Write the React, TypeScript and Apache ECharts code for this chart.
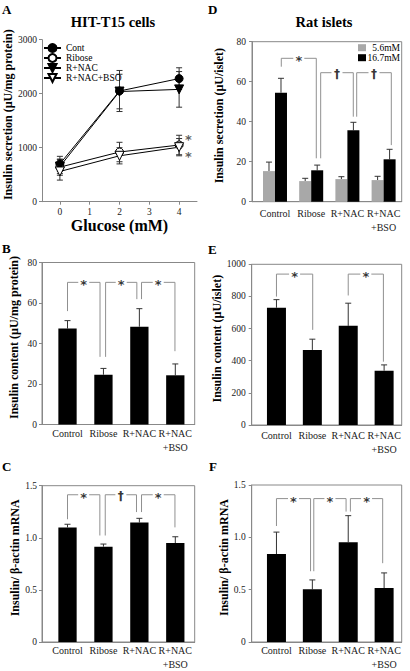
import React, { useEffect, useRef } from 'react';
import * as echarts from 'echarts';

const FONT = 'Liberation Serif';
const MARK_FONT = 'DejaVu Sans';
const AXIS_COLOR = '#888888';
const BRACKET_COLOR = '#909090';
const TEXT_COLOR = '#1a1a1a';
const GREY_BAR = '#a8a8a8';
const ERR_COLOR = '#333333';
const MARK_COLOR = '#000000';

// ---------- Panel A: HIT-T15 cells, insulin secretion vs glucose ----------
const glucoseLevels = [0, 2, 4];
const glucoseTicks = [0, 1, 2, 3, 4];
const aNames = ['Cont', 'Ribose', 'R+NAC', 'R+NAC+BSO'];
const aCont = [700, 2050, 2280];
const aContErr = [140, 380, 200];
const aRibose = [640, 920, 1050];
const aRiboseErr = [150, 180, 180];
const aNac = [650, 2040, 2080];
const aNacErr = [130, 320, 330];
const aBso = [560, 850, 1010];
const aBsoErr = [160, 150, 160];
const aStarPoints = [[4.31, 1200], [4.31, 880]];

// ---------- shared categories ----------
const groups = ['Control', 'Ribose', 'R+NAC', 'R+NAC\n+BSO'];
const groupIdx = [0, 1, 2, 3];

// ---------- Panel B: HIT-T15 insulin content ----------
const bContent = [47.4, 24.6, 48.3, 24.3];
const bContentErr = [3.9, 3.1, 8.9, 5.6];
const bBrackets = [[0, 56, 0.905, 33.4, 70.2], [1.06, 33.4, 1.93, 61.9, 70.2], [2.06, 61.9, 2.99, 36.2, 70.2]];
const bMarks = ['*', '*', '*'];

// ---------- Panel C: HIT-T15 insulin mRNA ----------
const cMrna = [1.10, 0.915, 1.147, 0.95];
const cMrnaErr = [0.03, 0.025, 0.04, 0.06];
const cBrackets = [[0, 1.178, 0.9, 1.022, 1.413], [1.05, 1.022, 1.92, 1.247, 1.413], [2.06, 1.247, 2.99, 1.10, 1.413]];
const cMarks = ['*', '†', '*'];

// ---------- Panel D: rat islets insulin secretion ----------
const dLegend = ['5.6mM', '16.7mM'];
const dLow = [15.3, 10.3, 11.3, 10.8];
const dLowErr = [4.5, 1.4, 1.2, 1.9];
const dHigh = [54.5, 15.7, 35.7, 21.2];
const dHighErr = [7.2, 2.6, 4.0, 5.0];
const dBrackets = [[0.174, 67.5, 1.141, 21.7, 71.7], [1.262, 21.7, 2.163, 42.5, 64.5], [2.257, 42.5, 3.213, 28.3, 64.5]];
const dMarks = ['*', '†', '†'];

// ---------- Panel E: rat islets insulin content ----------
const eContent = [730, 467, 617, 338];
const eContentErr = [50, 67, 141, 36];
const eBrackets = [[0, 799, 1.01, 592, 939], [2, 806, 2.98, 394, 939]];
const eMarks = ['*', '*'];

// ---------- Panel F: rat islets insulin mRNA ----------
const fMrna = [0.84, 0.503, 0.954, 0.515];
const fMrnaErr = [0.21, 0.09, 0.253, 0.145];
const fBrackets = [[0, 1.108, 0.95, 0.676, 1.37], [1.04, 0.676, 1.94, 1.246, 1.37], [2.06, 1.246, 2.96, 0.753, 1.37]];
const fMarks = ['*', '*', '*'];

const TRI_DOWN = 'path://M0,0L10,0L5,9Z';

function errorBarRender(offsetPx: number, twoSided: boolean) {
  return (params: any, api: any) => {
    const x = api.value(0);
    const y = api.value(1);
    const e = api.value(2);
    const top = api.coord([x, y + e]);
    const base = api.coord([x, twoSided ? y - e : y]);
    const cx = top[0] + offsetPx;
    const style = { stroke: ERR_COLOR, lineWidth: 1 };
    const children: any[] = [
      { type: 'line', shape: { x1: cx, y1: base[1], x2: cx, y2: top[1] }, style },
      { type: 'line', shape: { x1: cx - 3, y1: top[1], x2: cx + 3, y2: top[1] }, style },
    ];
    if (twoSided) {
      children.push({ type: 'line', shape: { x1: cx - 3, y1: base[1], x2: cx + 3, y2: base[1] }, style });
    }
    return { type: 'group', children };
  };
}

function bracketRender(params: any, api: any) {
  const xl = api.value(0);
  const yl = api.value(1);
  const xr = api.value(2);
  const yr = api.value(3);
  const yt = api.value(4);
  const pl = api.coord([xl, yl]);
  const plt = api.coord([xl, yt]);
  const pr = api.coord([xr, yr]);
  const prt = api.coord([xr, yt]);
  const mx = (plt[0] + prt[0]) / 2;
  const gap = 5.5;
  const lineStyle = { stroke: BRACKET_COLOR, lineWidth: 1, fill: 'none' };
  return {
    type: 'group',
    children: [
      { type: 'polyline', shape: { points: [pl, plt, [mx - gap, plt[1]]] }, style: lineStyle },
      { type: 'polyline', shape: { points: [[mx + gap, prt[1]], prt, pr] }, style: lineStyle },
    ],
  };
}

const tickLabel = { fontFamily: FONT, fontSize: 9.5, color: TEXT_COLOR };
const nameStyle = { fontFamily: FONT, fontSize: 12, fontWeight: 'bold', color: '#000', padding: [0, 0, 0, 12] };
const axisLine = { show: true, onZero: false, lineStyle: { color: AXIS_COLOR, width: 1 } };
const yTick = { show: true, inside: false, length: 3, lineStyle: { color: AXIS_COLOR } };

function yAxisDef(gi: number, max: number, interval: number, name: string, nameGap: number, margin: number, dec: boolean) {
  return {
    gridIndex: gi,
    type: 'value',
    min: 0,
    max,
    interval,
    axisLine,
    axisTick: yTick,
    splitLine: { show: false },
    axisLabel: {
      ...tickLabel,
      margin,
      formatter: (v: number) => (dec ? (v === 0 ? '0' : v.toFixed(1)) : String(v)),
    },
    name,
    nameLocation: 'middle',
    nameGap,
    nameTextStyle: nameStyle,
  };
}

function catAxisDef(gi: number, min: number, max: number, margin: number) {
  return {
    gridIndex: gi,
    type: 'value',
    min,
    max,
    axisLine,
    axisTick: { show: false },
    splitLine: { show: false },
    axisLabel: {
      fontFamily: FONT,
      fontSize: 10,
      lineHeight: 14,
      color: TEXT_COLOR,
      margin,
      customValues: groupIdx,
      formatter: (v: number) => (Number.isInteger(v) && v >= 0 && v < groups.length ? groups[v] : ''),
    },
  };
}

function barSeries(gi: number, name: string, vals: number[], color: string, width: number) {
  return {
    type: 'bar',
    name,
    xAxisIndex: gi,
    yAxisIndex: gi,
    data: vals.map((v, i) => [groupIdx[i], v]),
    barWidth: width,
    barGap: '0%',
    itemStyle: { color },
    silent: true,
  };
}

function errSeries(gi: number, vals: number[], errs: number[], offsetPx: number, twoSided: boolean, xs: number[]) {
  return {
    type: 'custom',
    xAxisIndex: gi,
    yAxisIndex: gi,
    silent: true,
    clip: false,
    data: vals.map((v, i) => [xs[i], v, errs[i]]),
    encode: { x: 0, y: 1 },
    renderItem: errorBarRender(offsetPx, twoSided),
  };
}

function markLabel(mark: string) {
  return mark === '*'
    ? { offset: [0, 2.5], fontFamily: MARK_FONT, fontWeight: 'bold', fontSize: 13 }
    : { offset: [0, 1.5], fontFamily: MARK_FONT, fontWeight: 'bold', fontSize: 12 };
}

function markSeries(gi: number, points: number[][], marks: string[], color: string) {
  return {
    type: 'scatter',
    xAxisIndex: gi,
    yAxisIndex: gi,
    silent: true,
    symbol: 'circle',
    symbolSize: 1,
    itemStyle: { color: 'rgba(0,0,0,0)' },
    z: 6,
    data: points.map((p, i) => ({ value: p, label: markLabel(marks[i]) })),
    label: {
      show: true,
      position: 'inside',
      formatter: (p: any) => marks[p.dataIndex],
      color,
    },
  };
}

function bracketSeries(gi: number, brackets: number[][], marks: string[]) {
  return [
    {
      type: 'custom',
      xAxisIndex: gi,
      yAxisIndex: gi,
      silent: true,
      clip: false,
      data: brackets,
      encode: { x: [0, 2], y: [1, 3, 4] },
      renderItem: bracketRender,
      z: 5,
    },
    markSeries(gi, brackets.map((b) => [(b[0] + b[2]) / 2, b[4]]), marks, MARK_COLOR),
  ];
}

const aValues = [aCont, aRibose, aNac, aBso];
const aErrors = [aContErr, aRiboseErr, aNacErr, aBsoErr];
const aSymbols = ['circle', 'circle', TRI_DOWN, TRI_DOWN];
const aFills = ['#000', '#fff', '#000', '#fff'];
const aSizes = [8, 8, 9, 9];

const lineSeries = aNames.map((n, k) => ({
  type: 'line',
  name: n,
  xAxisIndex: 0,
  yAxisIndex: 0,
  data: glucoseLevels.map((g, i) => [g, aValues[k][i]]),
  symbol: aSymbols[k],
  symbolSize: aSizes[k],
  showAllSymbol: true,
  lineStyle: { color: '#000', width: 1 },
  itemStyle: { color: aFills[k], borderColor: '#000', borderWidth: 1 },
  silent: true,
  z: 4,
}));

const aErrSeries = aNames.map((n, k) => errSeries(0, aValues[k], aErrors[k], 0, true, glucoseLevels));

const gridBox = { show: true, borderColor: AXIS_COLOR, borderWidth: 1, backgroundColor: 'transparent' };

const option: any = {
  animation: false,
  backgroundColor: '#fff',
  textStyle: { fontFamily: FONT },
  grid: [
    { left: 42, top: 39.7, width: 155, height: 162 },
    { left: 42, top: 262.5, width: 152.7, height: 162, ...gridBox },
    { left: 42, top: 485.7, width: 152.7, height: 160, ...gridBox },
    { left: 252, top: 41.7, width: 149.7, height: 160, ...gridBox },
    { left: 251.7, top: 264.3, width: 150, height: 160.7, ...gridBox },
    { left: 251.7, top: 485, width: 150, height: 161, ...gridBox },
  ],
  xAxis: [
    {
      gridIndex: 0,
      type: 'value',
      min: -0.6,
      max: 4.6,
      axisLine,
      axisTick: { show: true, inside: false, length: 3, customValues: glucoseTicks, lineStyle: { color: AXIS_COLOR } },
      splitLine: { show: false },
      axisLabel: {
        ...tickLabel,
        margin: 5,
        customValues: glucoseTicks,
        formatter: (v: number) => (Number.isInteger(v) ? String(v) : ''),
      },
      name: 'Glucose (mM)',
      nameLocation: 'middle',
      nameGap: 12,
      nameTextStyle: { fontFamily: FONT, fontSize: 16, fontWeight: 'bold', color: '#000' },
    },
    catAxisDef(1, -0.71, 3.54, 2),
    catAxisDef(2, -0.71, 3.54, 1),
    catAxisDef(3, -0.635, 3.5, 5),
    catAxisDef(4, -0.69, 3.49, 3),
    catAxisDef(5, -0.69, 3.49, 1),
  ],
  yAxis: [
    yAxisDef(0, 3000, 1000, 'Insulin secretion (µU/mg protein)', 22, 5, false),
    yAxisDef(1, 80, 20, 'Insulin content (µU/mg protein)', 22, 5, false),
    yAxisDef(2, 1.5, 0.5, 'Insulin/ β-actin mRNA', 20.5, 5, true),
    yAxisDef(3, 80, 20, 'Insulin secretion (µU/islet)', 27, 6, false),
    yAxisDef(4, 1000, 200, 'Insulin content (µU/islet)', 23.5, 6, false),
    yAxisDef(5, 1.5, 0.5, 'Insulin/ β-actin mRNA', 17.5, 6, true),
  ],
  legend: [
    {
      data: aNames,
      orient: 'vertical',
      left: 43,
      top: 43,
      padding: 0,
      itemWidth: 17,
      itemHeight: 10,
      itemGap: 0,
      selectedMode: false,
      textStyle: { fontFamily: FONT, fontSize: 9.5, color: '#000' },
    },
    {
      data: dLegend,
      orient: 'vertical',
      left: 358,
      top: 42.7,
      padding: 0,
      itemWidth: 8,
      itemHeight: 7,
      itemGap: 0,
      icon: 'rect',
      selectedMode: false,
      formatter: (name: string) => `{a|${name}}`,
      textStyle: {
        fontFamily: FONT,
        fontSize: 9.5,
        color: '#000',
        rich: { a: { width: 29, align: 'right', fontFamily: FONT, fontSize: 9.5, color: '#000' } },
      },
    },
  ],
  graphic: [
    { type: 'text', x: 2, y: 9, style: { text: 'A', font: `bold 13px ${FONT}`, fill: '#000', verticalAlign: 'middle' } },
    { type: 'text', x: 2, y: 248, style: { text: 'B', font: `bold 13px ${FONT}`, fill: '#000', verticalAlign: 'middle' } },
    { type: 'text', x: 2, y: 466, style: { text: 'C', font: `bold 13px ${FONT}`, fill: '#000', verticalAlign: 'middle' } },
    { type: 'text', x: 208, y: 9, style: { text: 'D', font: `bold 13px ${FONT}`, fill: '#000', verticalAlign: 'middle' } },
    { type: 'text', x: 208, y: 249.7, style: { text: 'E', font: `bold 13px ${FONT}`, fill: '#000', verticalAlign: 'middle' } },
    { type: 'text', x: 209, y: 466, style: { text: 'F', font: `bold 13px ${FONT}`, fill: '#000', verticalAlign: 'middle' } },
    { type: 'text', x: 113, y: 22, style: { text: 'HIT-T15 cells', font: `bold 14.5px ${FONT}`, fill: '#000', align: 'center', verticalAlign: 'middle' } },
    { type: 'text', x: 324, y: 22, style: { text: 'Rat islets', font: `bold 14.5px ${FONT}`, fill: '#000', align: 'center', verticalAlign: 'middle' } },
  ],
  series: [
    ...aErrSeries,
    ...lineSeries,
    markSeries(0, aStarPoints, ['*', '*'], '#333333'),
    barSeries(1, 'B', bContent, '#000', 18.3),
    errSeries(1, bContent, bContentErr, 0, false, groupIdx),
    ...bracketSeries(1, bBrackets, bMarks),
    barSeries(2, 'C', cMrna, '#000', 18.3),
    errSeries(2, cMrna, cMrnaErr, 0, false, groupIdx),
    ...bracketSeries(2, cBrackets, cMarks),
    barSeries(3, dLegend[0], dLow, GREY_BAR, 12),
    barSeries(3, dLegend[1], dHigh, '#000', 12),
    errSeries(3, dLow, dLowErr, -6, false, groupIdx),
    errSeries(3, dHigh, dHighErr, 6, false, groupIdx),
    ...bracketSeries(3, dBrackets, dMarks),
    barSeries(4, 'E', eContent, '#000', 19),
    errSeries(4, eContent, eContentErr, 0, false, groupIdx),
    ...bracketSeries(4, eBrackets, eMarks),
    barSeries(5, 'F', fMrna, '#000', 19),
    errSeries(5, fMrna, fMrnaErr, 0, false, groupIdx),
    ...bracketSeries(5, fBrackets, fMarks),
  ],
};

export default function App() {
  const ref = useRef<HTMLDivElement>(null);
  useEffect(() => {
    if (!ref.current) return;
    const chart = echarts.init(ref.current, undefined, { renderer: 'svg', width: 410, height: 671 });
    chart.setOption(option);
    return () => chart.dispose();
  }, []);
  return (
    <div
      ref={ref}
      style={{ position: 'fixed', left: 0, top: 0, width: 410, height: 671, background: '#fff' }}
    />
  );
}
